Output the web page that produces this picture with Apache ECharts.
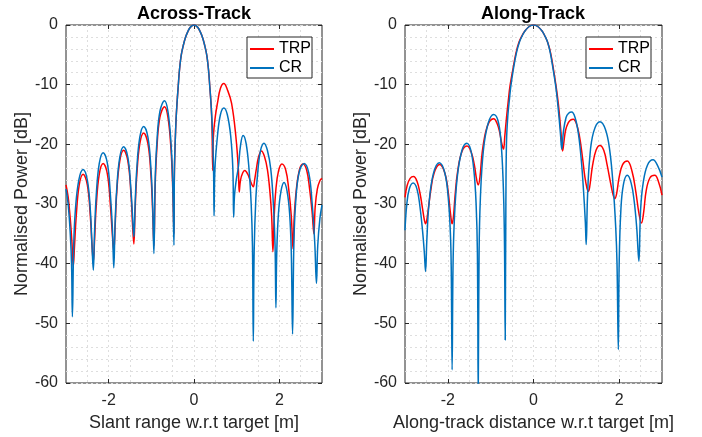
<!DOCTYPE html>
<html>
<head>
<meta charset="utf-8">
<script src="https://cdn.jsdelivr.net/npm/echarts@6/dist/echarts.min.js"></script>
<style>
html,body{margin:0;padding:0;background:#fff;}
#chart{width:702px;height:437px;}
</style>
</head>
<body>
<div id="chart"></div>
<script>
// ---- tick labels ----
const xTicks = [-2, 0, 2];
const yTicks = [0, -10, -20, -30, -40, -50, -60];
const seriesNames = ['TRP', 'CR'];
const titles = ['Across-Track', 'Along-Track'];
const xNames = ['Slant range w.r.t target [m]', 'Along-track distance w.r.t target [m]'];
const yName = 'Normalised Power [dB]';

// ---- Across-Track, TRP ----
const acrossTrpX = [-3.00,-2.95,-2.90,-2.86,-2.83,
 -2.80,-2.76,-2.69,-2.60,-2.50,-2.43,-2.39,-2.36,
 -2.33,-2.29,-2.22,-2.13,-2.03,-1.96,-1.91,-1.88,
 -1.85,-1.81,-1.74,-1.65,-1.55,-1.48,-1.44,-1.41,
 -1.38,-1.34,-1.27,-1.18,-1.08,-1.01,-0.97,-0.94,
 -0.91,-0.87,-0.80,-0.69,-0.61,-0.54,-0.50,-0.47,
 -0.46,-0.44,-0.42,-0.40,-0.37,-0.34,-0.30,-0.25,-0.20,-0.15,-0.10,-0.05,0,
 0.05,0.10,0.15,0.20,0.25,0.30,0.34,0.37,0.40,0.42,0.44,
 0.455,0.50,0.55,0.62,0.70,0.78,0.88,0.98,1.04,1.06,
 1.09,1.14,1.19,1.26,1.33,1.39,
 1.42,1.46,1.51,1.58,1.65,1.72,1.78,1.82,1.85,
 1.88,1.92,1.98,2.06,2.15,2.22,2.28,2.32,
 2.35,2.40,2.47,2.55,2.64,2.71,2.77,2.81,
 2.84,2.89,2.95,3.00];
const acrossTrpY = [-26.8,-28.8,-32.5,-36.5,-40.5,
 -37,-32,-26.8,-25.0,-26.8,-32,-37,-39.7,
 -36,-30.2,-25.0,-23.2,-25.0,-30.2,-35.5,-38,
 -34,-28,-22.8,-21.0,-22.8,-28,-33.5,-36.7,
 -31,-25.1,-19.9,-18.1,-19.9,-25.1,-31,-37,
 -27,-20.7,-15.5,-13.7,-15.5,-20.7,-27,-35,
 -25,-19.5,-15.8,-13.3,-10.3,-7.5,-5.1,-3.4,-2.1,-1.2,-0.5,-0.13,0,
 -0.13,-0.5,-1.2,-2.1,-3.4,-5.1,-7.5,-10.3,-13.3,-16.5,-24.4,
 -18.6,-15.3,-13.1,-10.6,-9.8,-10.8,-13.1,-18.6,-24.2,-28,
 -26,-24.8,-24.4,-25,-26.3,-27.1,
 -26,-24.2,-22.2,-21.1,-22,-24.2,-28,-32,-38,
 -32,-27.5,-24.5,-23.3,-24.3,-27.5,-32,-37.5,
 -32,-27.5,-24.3,-23.3,-24.3,-27.5,-31.5,-35,
 -30.5,-27.5,-26.1,-25.7];

// ---- Across-Track, CR ----
const acrossCrX = [-3.00,-2.95,-2.90,-2.87,-2.85,
 -2.82,-2.78,-2.70,-2.60,-2.50,-2.43,-2.39,-2.36,
 -2.33,-2.29,-2.22,-2.13,-2.03,-1.96,-1.91,-1.88,
 -1.85,-1.81,-1.74,-1.65,-1.55,-1.48,-1.44,-1.41,
 -1.38,-1.34,-1.27,-1.18,-1.08,-1.01,-0.97,-0.94,
 -0.91,-0.87,-0.80,-0.69,-0.61,-0.54,-0.50,-0.47,
 -0.46,-0.44,-0.42,-0.40,-0.37,-0.34,-0.30,-0.25,-0.20,-0.15,-0.10,-0.05,0,
 0.05,0.10,0.15,0.20,0.25,0.30,0.34,0.37,0.40,0.42,0.44,0.46,0.47,
 0.49,0.55,0.62,0.70,0.78,0.86,0.91,0.93,
 0.95,0.99,1.04,1.09,1.15,1.22,1.29,1.34,1.37,1.39,
 1.41,1.45,1.50,1.56,1.64,1.72,1.80,1.86,1.90,1.92,
 1.94,1.98,2.04,2.11,2.18,2.24,2.28,2.31,
 2.34,2.38,2.46,2.58,2.69,2.77,2.83,2.87,
 2.90,2.95,3.00];
const acrossCrY = [-27.5,-30,-35,-40,-48.9,
 -37,-31,-26,-24.2,-26,-31,-37,-41.1,
 -34.5,-28.4,-23.2,-21.4,-23.2,-28.4,-34.5,-40.7,
 -33.4,-27.4,-22.2,-20.4,-22.2,-27.4,-32,-35.5,
 -30,-24,-18.8,-17.0,-18.8,-24,-30,-38.3,
 -26,-19.7,-14.5,-12.7,-14.5,-19.7,-26,-36.9,
 -25,-19.5,-15.8,-13.3,-10.3,-7.5,-5.1,-3.4,-2.1,-1.2,-0.5,-0.13,0,
 -0.13,-0.5,-1.2,-2.1,-3.4,-5.1,-7.5,-10.3,-13.3,-15.8,-19.5,-25,-32,
 -24.2,-18.6,-15,-13.9,-15,-18.6,-24,-32.2,
 -28.5,-26,-23.8,-20.2,-18.5,-19.8,-24.2,-30,-37,-53,
 -38,-29,-24.2,-21,-19.8,-21,-24.2,-30,-37,-47.4,
 -38,-31.5,-27.8,-26.4,-27.8,-31.5,-38,-51.8,
 -37,-30,-24.8,-23.2,-24.8,-30,-36.5,-43.3,
 -37,-32.5,-30.2];

// ---- Along-Track, TRP ----
const alongTrpX = [-3.00,-2.95,-2.88,-2.80,-2.72,-2.65,-2.59,-2.55,-2.52,-2.49,
 -2.45,-2.40,-2.32,-2.19,-2.07,-2.00,-1.95,-1.92,-1.90,-1.87,
 -1.83,-1.77,-1.67,-1.55,-1.45,-1.38,-1.33,-1.29,-1.25,
 -1.20,-1.12,-1.03,-0.93,-0.85,-0.79,-0.74,-0.70,
 -0.67,-0.63,-0.59,-0.55,-0.48,-0.41,-0.34,-0.27,-0.20,-0.10,0,
 0.10,0.20,0.27,0.33,0.40,0.47,0.53,0.58,0.62,0.65,0.68,
 0.71,0.75,0.81,0.87,0.93,1.00,1.07,1.14,1.20,1.25,1.28,1.31,
 1.38,1.46,1.55,1.64,1.72,1.80,1.86,1.90,1.94,
 2.00,2.08,2.19,2.30,2.39,2.46,2.52,2.57,
 2.63,2.72,2.83,2.92,3.00];
const alongTrpY = [-28.9,-26.9,-25.7,-25.4,-26.2,-28.2,-30.8,-32.6,-33.3,-32.6,
 -30.5,-27.8,-24.8,-23.4,-24.8,-27.5,-30.8,-32.7,-33.3,-32.2,
 -28.5,-24.5,-21.2,-20.3,-21.4,-23.5,-25.8,-26.8,-25.5,
 -21.5,-18,-16.2,-15.7,-16.5,-18,-19.9,-20.8,
 -18.6,-15.5,-12.8,-10.3,-7.4,-4.7,-2.9,-1.8,-1.0,-0.25,0,
 -0.25,-1.0,-1.9,-2.9,-4.7,-7.6,-10.4,-13.2,-16.2,-18.8,-21.1,
 -19.6,-17.6,-16.4,-15.9,-15.8,-16.5,-18.5,-22,-25.5,-27.4,-27.9,-27.2,
 -23.5,-21,-20.2,-21,-23.5,-26.5,-28.5,-29.1,-28.3,
 -25.5,-23.4,-22.8,-24.5,-28,-31.5,-33.2,-31.5,
 -27.8,-25.6,-25.2,-26.3,-28.5];

// ---- Along-Track, CR ----
const alongCrX = [-3.00,-2.96,-2.90,-2.81,-2.72,-2.65,-2.59,-2.55,-2.52,
 -2.49,-2.44,-2.34,-2.20,-2.07,-1.99,-1.94,-1.92,-1.90,
 -1.88,-1.85,-1.78,-1.67,-1.56,-1.47,-1.39,-1.34,-1.31,-1.29,
 -1.27,-1.24,-1.17,-1.06,-0.93,-0.83,-0.76,-0.71,-0.68,-0.66,
 -0.645,-0.63,-0.60,-0.56,-0.53,-0.47,-0.40,-0.33,-0.27,-0.20,-0.10,0,
 0.10,0.20,0.27,0.33,0.39,0.46,0.52,0.56,0.60,0.63,0.66,
 0.70,0.76,0.82,0.89,0.97,1.05,1.12,1.17,1.21,1.23,
 1.26,1.31,1.40,1.55,1.68,1.78,1.86,1.92,1.95,1.98,
 2.00,2.04,2.10,2.19,2.28,2.35,2.41,2.46,
 2.50,2.56,2.66,2.79,2.90,3.00];
const alongCrY = [-34.4,-30.2,-27.5,-26.5,-27.5,-30.5,-34.5,-38,-41.3,
 -36,-30,-25,-23.1,-24.8,-29,-35,-41,-57.8,
 -41,-33,-25.5,-21,-19.8,-20.8,-24.5,-30,-38,-62,
 -38,-29,-21,-16.5,-15,-16,-19.5,-26,-35,-52.8,
 -30,-19.5,-15.3,-12.3,-10.3,-7.4,-4.7,-2.9,-1.9,-1.0,-0.25,0,
 -0.25,-1.0,-1.9,-2.9,-4.6,-7.5,-10.3,-12.8,-15.8,-18.3,-20.8,
 -17.8,-15.5,-14.8,-14.6,-15.5,-18.3,-23,-28,-33,-36.8,
 -29,-22.5,-18,-16.2,-17.5,-21,-27,-34,-40,-54.4,
 -40,-31,-26.7,-25.2,-26.5,-29.5,-34,-39.6,
 -31,-26.5,-23.5,-22.6,-23.6,-25.5];

const pairs = (xs, ys) => xs.map((x, i) => [x, ys[i]]);

const FONT = 'Liberation Sans, Arial, Helvetica, sans-serif';
const AX = '#262626';
const RED = '#ff0000';
const BLUE = '#0072bd';
const gridStyle = { color: '#dedede', type: [2, 3], width: 1 };

const grids = [
  { left: 66, top: 25, width: 256, height: 359 },
  { left: 405, top: 25, width: 257, height: 359 }
];

function xAxes(g) {
  return [
    {
      gridIndex: g, type: 'value', min: -3, max: 3, interval: 1, position: 'bottom',
      name: xNames[g], nameLocation: 'middle', nameGap: 31,
      nameTextStyle: { fontSize: 18, color: AX, fontFamily: FONT },
      axisLine: { show: false, onZero: false },
      axisTick: { show: true, inside: true, length: 4, customValues: xTicks, lineStyle: { color: AX } },
      axisLabel: { customValues: xTicks, fontSize: 16, color: AX, fontFamily: FONT, margin: 10 },
      splitLine: { show: true, lineStyle: gridStyle },
      minorTick: { show: false, splitNumber: 2 },
      minorSplitLine: { show: true, lineStyle: gridStyle }
    },
    {
      gridIndex: g, type: 'value', min: -3, max: 3, interval: 1, position: 'top',
      axisLine: { show: false, onZero: false },
      axisTick: { show: true, inside: true, length: 4, customValues: xTicks, lineStyle: { color: AX } },
      axisLabel: { show: false },
      splitLine: { show: false }
    }
  ];
}
function yAxes(g) {
  return [
    {
      gridIndex: g, type: 'value', min: -60, max: 0, interval: 10, position: 'left',
      name: yName, nameLocation: 'middle', nameGap: 31,
      nameTextStyle: { fontSize: 18, color: AX, fontFamily: FONT },
      axisLine: { show: false, onZero: false },
      axisTick: { show: true, inside: true, length: 4, customValues: yTicks, lineStyle: { color: AX } },
      axisLabel: { customValues: yTicks, fontSize: 16, color: AX, fontFamily: FONT, margin: 8 },
      splitLine: { show: true, lineStyle: gridStyle },
      minorTick: { show: false, splitNumber: 5 },
      minorSplitLine: { show: true, lineStyle: gridStyle }
    },
    {
      gridIndex: g, type: 'value', min: -60, max: 0, interval: 10, position: 'right',
      axisLine: { show: false, onZero: false },
      axisTick: { show: true, inside: true, length: 4, customValues: yTicks, lineStyle: { color: AX } },
      axisLabel: { show: false },
      splitLine: { show: false }
    }
  ];
}

function line(name, data, xi, yi, color, z) {
  return {
    name, type: 'line', data, xAxisIndex: xi, yAxisIndex: yi,
    symbol: 'none', smooth: 0.4, clip: true, z,
    lineStyle: { color, width: 1.5 }, itemStyle: { color }
  };
}

const legendBase = {
  data: seriesNames, orient: 'vertical', top: 37,
  icon: 'rect', itemWidth: 24, itemHeight: 2, itemGap: 3,
  padding: [4, 1, 2, 3],
  borderColor: AX, borderWidth: 1, backgroundColor: '#fff',
  textStyle: { fontSize: 16, color: '#000', fontFamily: FONT }
};

const option = {
  animation: false,
  backgroundColor: '#fff',
  title: [
    { text: titles[0], left: 194, top: 5, textAlign: 'center', padding: 0,
      textStyle: { fontSize: 18, fontWeight: 'bold', color: '#000', fontFamily: FONT } },
    { text: titles[1], left: 533, top: 5, textAlign: 'center', padding: 0,
      textStyle: { fontSize: 18, fontWeight: 'bold', color: '#000', fontFamily: FONT } }
  ],
  legend: [
    Object.assign({}, legendBase, { left: 247 }),
    Object.assign({}, legendBase, { left: 586 })
  ],
  grid: grids.map(g => Object.assign({ show: true, borderColor: AX, borderWidth: 1, backgroundColor: 'transparent' }, g)),
  xAxis: [...xAxes(0), ...xAxes(1)],
  yAxis: [...yAxes(0), ...yAxes(1)],
  series: [
    line(seriesNames[0], pairs(acrossTrpX, acrossTrpY), 0, 0, RED, 2),
    line(seriesNames[1], pairs(acrossCrX, acrossCrY), 0, 0, BLUE, 3),
    line(seriesNames[0], pairs(alongTrpX, alongTrpY), 2, 2, RED, 2),
    line(seriesNames[1], pairs(alongCrX, alongCrY), 2, 2, BLUE, 3)
  ]
};

const chart = echarts.init(document.getElementById('chart'), null, { renderer: 'canvas' });
chart.setOption(option);
</script>
</body>
</html>
